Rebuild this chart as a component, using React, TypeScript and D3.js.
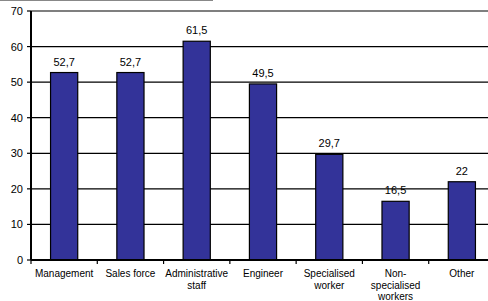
import React from 'react';
import * as d3 from 'd3';

// categories (label lines) and values
const categories = ['Management', 'Sales force', 'Administrative staff', 'Engineer', 'Specialised worker', 'Non-specialised workers', 'Other'];
const categoryLines = [
  ['Management'],
  ['Sales force'],
  ['Administrative', 'staff'],
  ['Engineer'],
  ['Specialised', 'worker'],
  ['Non-', 'specialised', 'workers'],
  ['Other'],
];
const values = [52.7, 52.7, 61.5, 49.5, 29.7, 16.5, 22];
const yTicks = [0, 10, 20, 30, 40, 50, 60, 70];

const W = 488;
const H = 301;
const FONT = 'Liberation Sans, Arial, sans-serif';

export default function App() {
  const left = 31;
  const x = d3.scaleBand<string>().domain(categories).range([left, 495]).padding(0);
  const y = d3.scaleLinear().domain([0, 70]).range([260, 11]);
  const barW = x.bandwidth() * 0.41;
  const fmt = (v: number) => String(v).replace('.', ',');

  return (
    <svg width={W} height={H} style={{ position: 'absolute', left: 0, top: 0, background: '#fff' }} fontFamily={FONT}>
      {/* clipped title remnant */}
      <line x1={0} x2={213} y1={0.5} y2={0.5} stroke="#888" />

      {/* gridlines */}
      {yTicks.filter(t => t > 0).map(t => (
        <line key={t} x1={left} x2={W} y1={y(t)} y2={y(t)} stroke="#000" strokeWidth={1.2} />
      ))}

      {/* bars */}
      {categories.map((c, i) => {
        const cx = (x(c) ?? 0) + x.bandwidth() / 2;
        return (
          <g key={c}>
            <rect x={cx - barW / 2} y={y(values[i])} width={barW} height={y(0) - y(values[i])}
              fill="#333399" stroke="#000" strokeWidth={1.2} />
            <text x={cx} y={y(values[i]) - 7} textAnchor="middle" fontSize={11} fill="#000">{fmt(values[i])}</text>
          </g>
        );
      })}

      {/* y axis */}
      <line x1={left} x2={left} y1={y(70)} y2={y(0)} stroke="#000" strokeWidth={2} />
      {yTicks.map(t => (
        <g key={t}>
          <line x1={left - 4} x2={left} y1={y(t)} y2={y(t)} stroke="#000" strokeWidth={1.2} />
          <text x={left - 8} y={y(t) + 4} textAnchor="end" fontSize={11} fill="#000">{t}</text>
        </g>
      ))}

      {/* x axis */}
      <line x1={left} x2={W} y1={y(0)} y2={y(0)} stroke="#000" strokeWidth={2} />
      {categories.map(c => (
        <line key={c} x1={x(c) ?? 0} x2={x(c) ?? 0} y1={y(0)} y2={y(0) + 4} stroke="#000" strokeWidth={1.2} />
      ))}
      {categories.map((c, i) => {
        const cx = (x(c) ?? 0) + x.bandwidth() / 2;
        return (
          <text key={c} textAnchor="middle" fontSize={10} fill="#000">
            {categoryLines[i].map((ln, j) => (
              <tspan key={j} x={cx} y={277 + j * 11.5}>{ln}</tspan>
            ))}
          </text>
        );
      })}
    </svg>
  );
}
